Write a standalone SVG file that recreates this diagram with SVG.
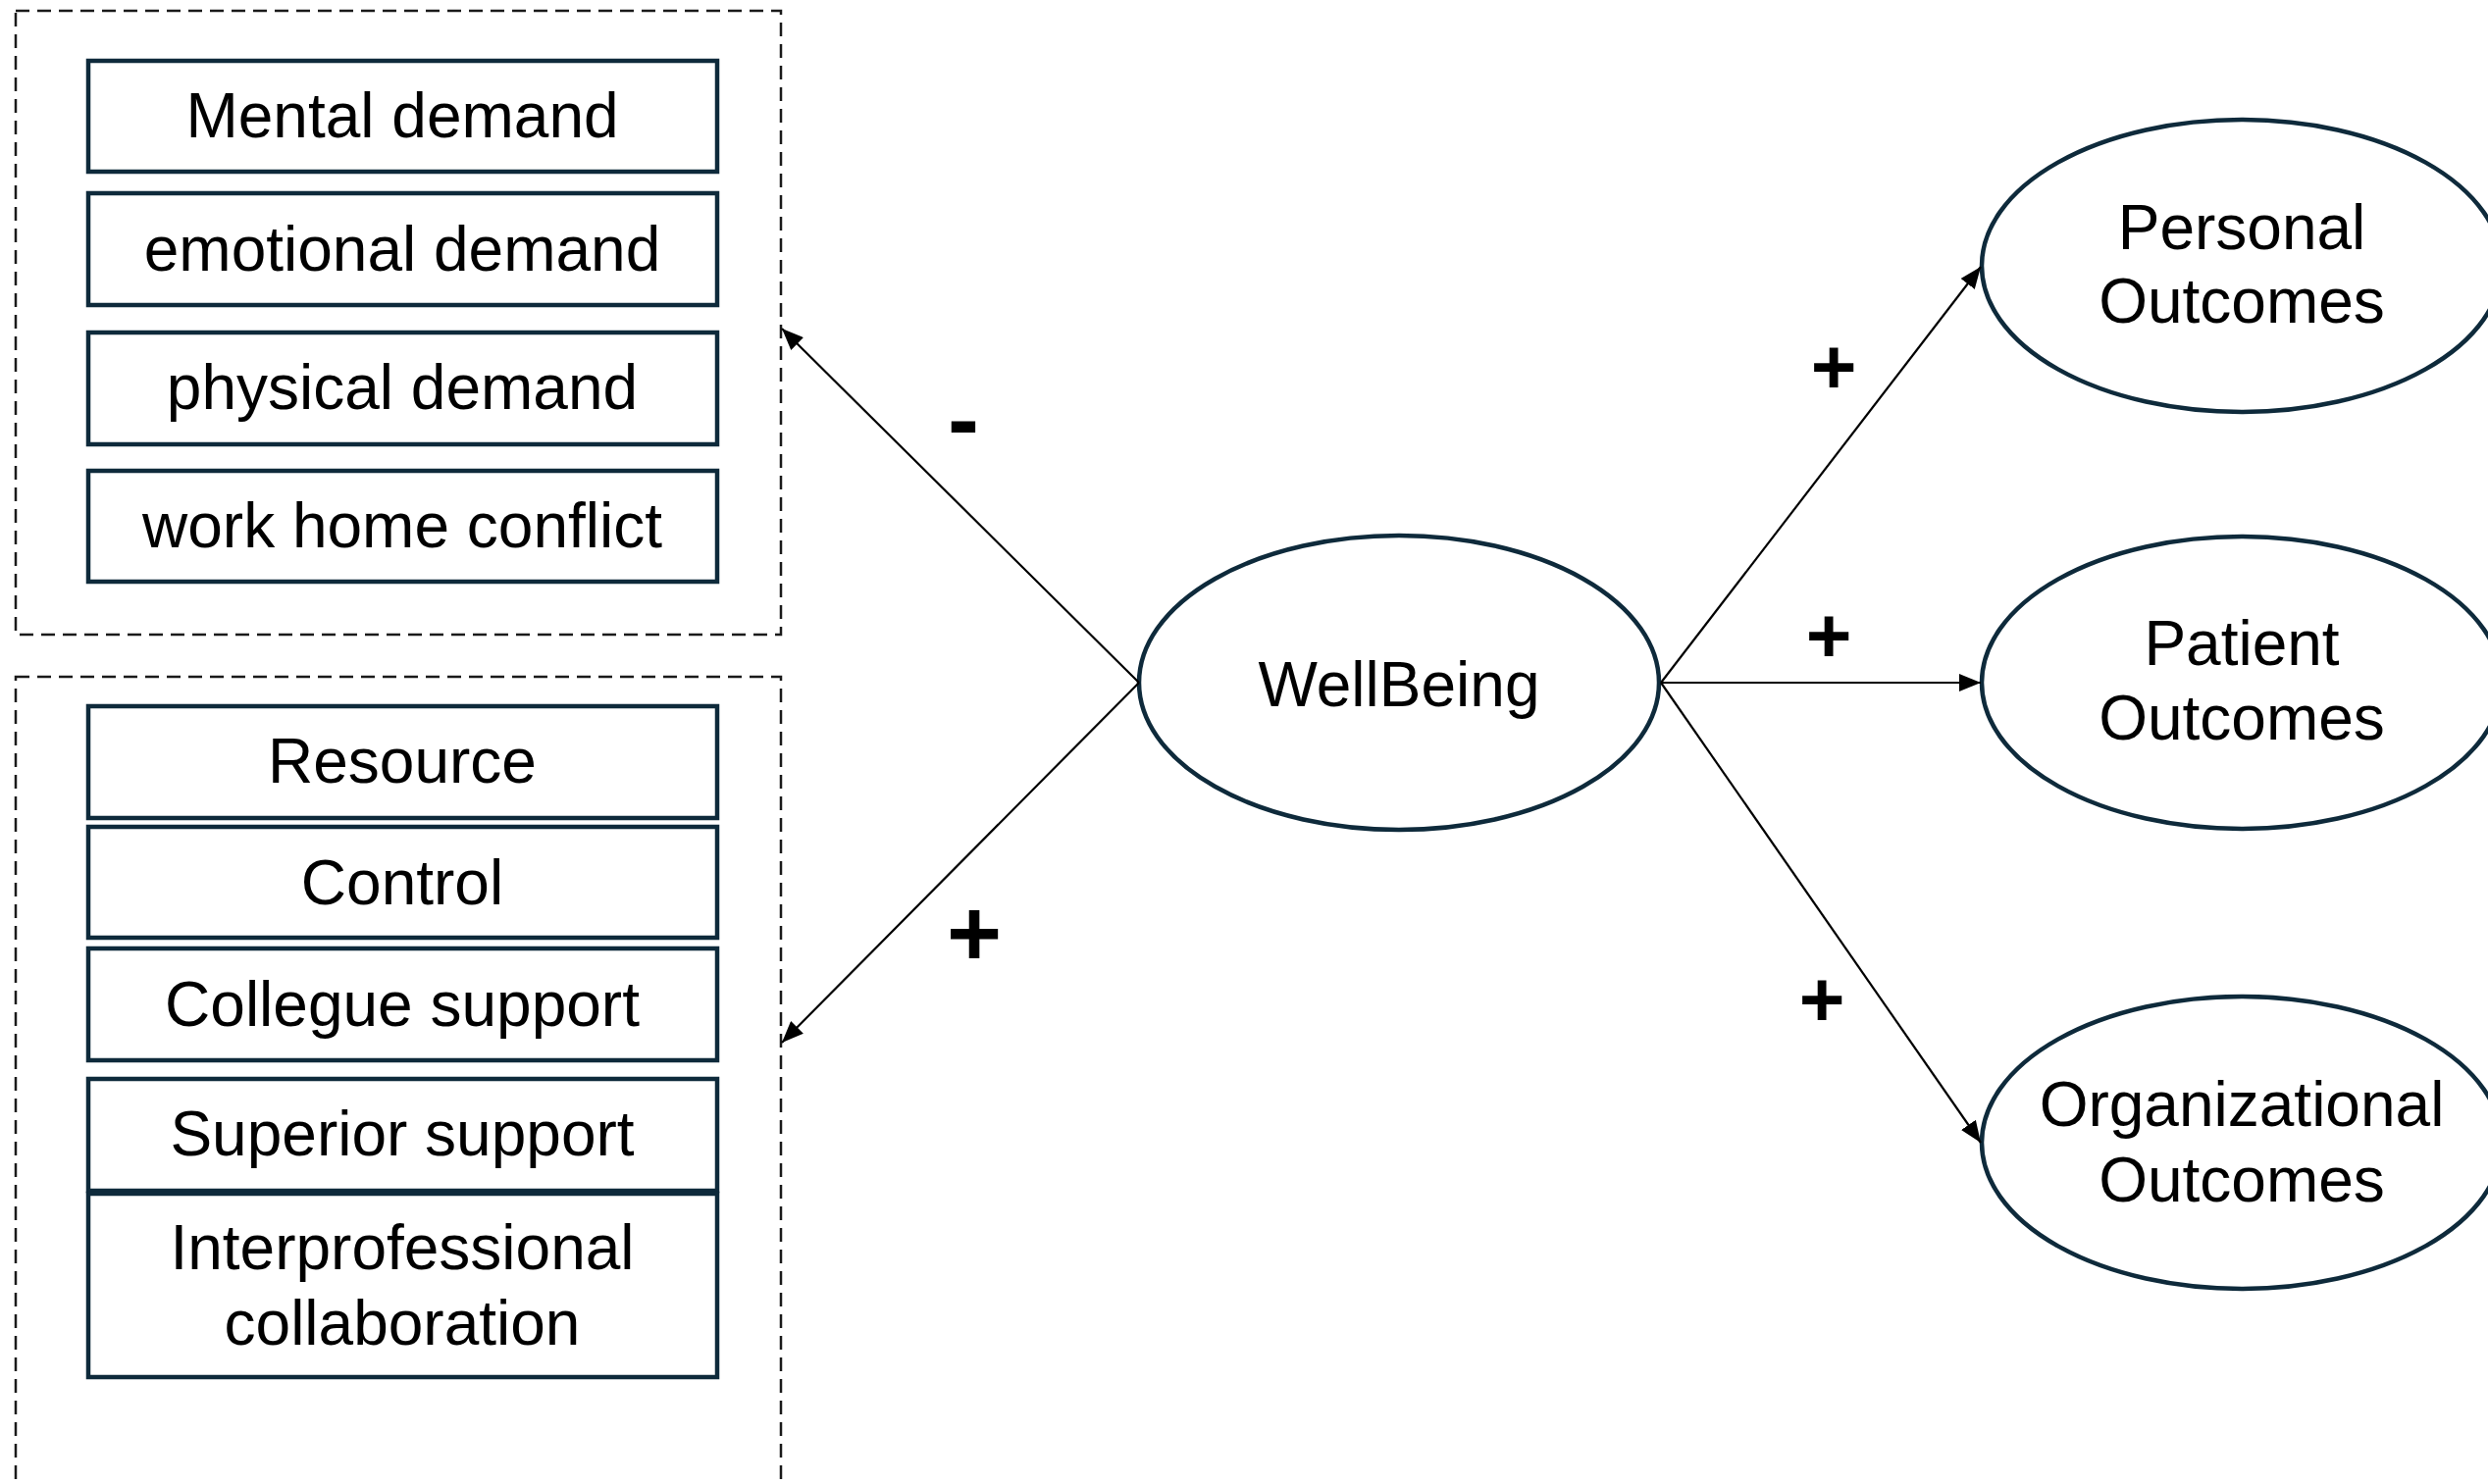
<svg xmlns="http://www.w3.org/2000/svg" width="2536" height="1513" viewBox="0 0 2536 1513">
<defs>
<style>
.grp{fill:none;stroke:#1a1a1a;stroke-width:2.5;stroke-dasharray:14 8}
.box{fill:#fff;stroke:#0E2A3B;stroke-width:4.5}
.ell{fill:#fff;stroke:#0E2A3B;stroke-width:4.5}
.t{font-family:"Liberation Sans",Arial,sans-serif;font-size:64px;fill:#000;text-anchor:middle}
.lbl{font-family:"Liberation Sans",Arial,sans-serif;font-weight:bold;fill:#000;text-anchor:middle}
.con{stroke:#000;stroke-width:2.2;fill:none;marker-end:url(#ah)}
</style>
<marker id="ah" markerUnits="userSpaceOnUse" markerWidth="24" markerHeight="18" refX="22" refY="9" orient="auto">
<path d="M0,0 L22,9 L0,18 Z" fill="#000"/>
</marker>
</defs>
<rect width="2536" height="1513" fill="#fff"/>
<g id="demands-group">
<rect class="grp" x="16" y="11" width="780" height="636"/>
</g>
<g id="resources-group">
<rect class="grp" x="16" y="690" width="780" height="850"/>
</g>
<g id="mental-demand"><rect class="box" x="90" y="62" width="641" height="113"/><text class="t" x="410" y="140">Mental demand</text></g>
<g id="emotional-demand"><rect class="box" x="90" y="197" width="641" height="114"/><text class="t" x="410" y="276">emotional demand</text></g>
<g id="physical-demand"><rect class="box" x="90" y="339" width="641" height="114"/><text class="t" x="410" y="417">physical demand</text></g>
<g id="work-home-conflict"><rect class="box" x="90" y="480" width="641" height="113"/><text class="t" x="410" y="558">work home conflict</text></g>
<g id="resource"><rect class="box" x="90" y="720" width="641" height="114"/><text class="t" x="410" y="798">Resource</text></g>
<g id="control"><rect class="box" x="90" y="843" width="641" height="113"/><text class="t" x="410" y="922">Control</text></g>
<g id="collegue-support"><rect class="box" x="90" y="967" width="641" height="114"/><text class="t" x="410" y="1046">Collegue support</text></g>
<g id="superior-support"><rect class="box" x="90" y="1100" width="641" height="114"/><text class="t" x="410" y="1178">Superior support</text></g>
<g id="interprofessional-collaboration"><rect class="box" x="90" y="1217" width="641" height="187"/><text class="t" x="410" y="1294">Interprofessional</text><text class="t" x="410" y="1371">collaboration</text></g>
<g id="wellbeing"><ellipse class="ell" cx="1426" cy="696" rx="265" ry="150"/><text class="t" x="1426" y="720">WellBeing</text></g>
<g id="personal-outcomes"><ellipse class="ell" cx="2285" cy="271" rx="265" ry="149"/><text class="t" x="2285" y="254">Personal</text><text class="t" x="2285" y="329">Outcomes</text></g>
<g id="patient-outcomes"><ellipse class="ell" cx="2285" cy="696" rx="265" ry="149"/><text class="t" x="2285" y="678">Patient</text><text class="t" x="2285" y="754">Outcomes</text></g>
<g id="organizational-outcomes"><ellipse class="ell" cx="2285" cy="1165" rx="265" ry="149"/><text class="t" x="2285" y="1148">Organizational</text><text class="t" x="2285" y="1225">Outcomes</text></g>
<g id="connectors">
<line class="con" x1="1161" y1="696" x2="797" y2="335"/>
<line class="con" x1="1161" y1="696" x2="797" y2="1063"/>
<line class="con" x1="1693" y1="696" x2="2019" y2="272"/>
<line class="con" x1="1693" y1="696" x2="2019" y2="696"/>
<line class="con" x1="1693" y1="696" x2="2019" y2="1165"/>
<text class="lbl" x="982" y="460" font-size="96">-</text>
<text class="lbl" x="993" y="985" font-size="96">+</text>
<text class="lbl" x="1869" y="401" font-size="80">+</text>
<text class="lbl" x="1864" y="675" font-size="80">+</text>
<text class="lbl" x="1857" y="1046" font-size="80">+</text>
</g>
</svg>
